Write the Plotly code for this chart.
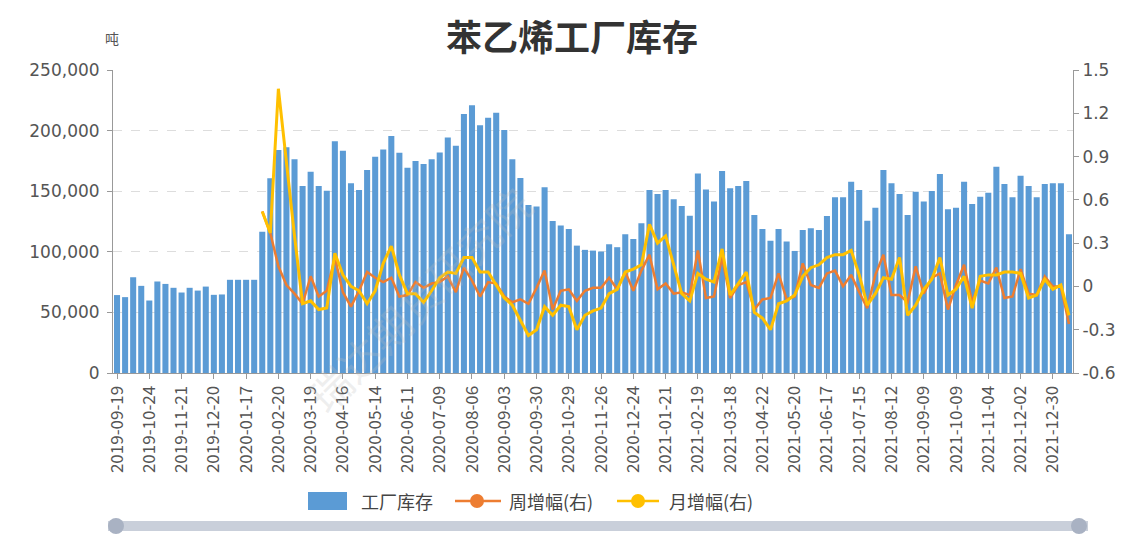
import plotly.graph_objects as go

dates = [
    "2019-09-19", "2019-09-26", "2019-10-11", "2019-10-17",
    "2019-10-24", "2019-10-31", "2019-11-07", "2019-11-14",
    "2019-11-21", "2019-11-28", "2019-12-05", "2019-12-12",
    "2019-12-20", "2019-12-26", "2020-01-02", "2020-01-09",
    "2020-01-17", "2020-01-23", "2020-02-06", "2020-02-13",
    "2020-02-20", "2020-02-27", "2020-03-05", "2020-03-12",
    "2020-03-19", "2020-03-26", "2020-04-02", "2020-04-09",
    "2020-04-16", "2020-04-23", "2020-04-30", "2020-05-07",
    "2020-05-14", "2020-05-21", "2020-05-28", "2020-06-04",
    "2020-06-11", "2020-06-18", "2020-06-24", "2020-07-02",
    "2020-07-09", "2020-07-16", "2020-07-23", "2020-07-30",
    "2020-08-06", "2020-08-13", "2020-08-20", "2020-08-27",
    "2020-09-03", "2020-09-10", "2020-09-17", "2020-09-24",
    "2020-09-30", "2020-10-09", "2020-10-15", "2020-10-22",
    "2020-10-29", "2020-11-05", "2020-11-12", "2020-11-19",
    "2020-11-26", "2020-12-03", "2020-12-10", "2020-12-17",
    "2020-12-24", "2020-12-31", "2021-01-07", "2021-01-14",
    "2021-01-21", "2021-01-28", "2021-02-04", "2021-02-10",
    "2021-02-19", "2021-02-25", "2021-03-04", "2021-03-11",
    "2021-03-18", "2021-03-25", "2021-04-01", "2021-04-08",
    "2021-04-22", "2021-04-29", "2021-05-07", "2021-05-13",
    "2021-05-20", "2021-05-27", "2021-06-03", "2021-06-10",
    "2021-06-17", "2021-06-24", "2021-07-01", "2021-07-08",
    "2021-07-15", "2021-07-22", "2021-07-29", "2021-08-05",
    "2021-08-12", "2021-08-19", "2021-08-26", "2021-09-02",
    "2021-09-09", "2021-09-16", "2021-09-23", "2021-09-30",
    "2021-10-09", "2021-10-14", "2021-10-21", "2021-10-28",
    "2021-11-04", "2021-11-11", "2021-11-18", "2021-11-25",
    "2021-12-02", "2021-12-09", "2021-12-16", "2021-12-23",
    "2021-12-30", "2022-01-06", "2022-01-13",
]

inventory = [
    64300, 62600, 79000, 71900, 59800, 75500, 73500, 70300, 66400, 70300,
    68000, 71300, 64500, 64800, 76900, 76900, 76900, 76900, 116600, 160600,
    184000, 186200, 176300, 154300, 166100, 154300, 150400, 191300, 183400, 156500,
    151000, 167500, 178400, 184500, 195500, 181700, 169400, 174900, 172400, 176300,
    182000, 194400, 187500, 213600, 221000, 204500, 210600, 214700, 200400, 176300,
    160900, 138600, 137300, 153200, 125400, 121600, 118900, 105100, 101600, 101000,
    100200, 106200, 103800, 114500, 110600, 123500, 151000, 147700, 151000, 143300,
    137800, 129800, 164700, 151500, 141400, 166600, 152400, 154300, 158400, 130400,
    118900, 109200, 118900, 108400, 100700, 118000, 119400, 118000, 129600, 145000,
    145000, 157800, 151000, 125700, 136400, 167500, 156500, 147700, 130400, 149600,
    141400, 150200, 164200, 135100, 136400, 157800, 139500, 145500, 148800, 170200,
    155900, 145000, 162800, 154300, 145000, 155900, 156500, 156500, 114500,
]

weekly = [None] * 18 + [
    0.52, 0.37, 0.14, 0.01, -0.05, -0.12, 0.07, -0.07, -0.03, 0.20,
    -0.04, -0.14, -0.03, 0.10, 0.06, 0.03, 0.06, -0.07, -0.06, 0.03,
    -0.01, 0.02, 0.03, 0.07, -0.04, 0.13, 0.04, -0.07, 0.03, 0.02,
    -0.07, -0.11, -0.09, -0.12, -0.01, 0.11, -0.16, -0.03, -0.02, -0.10,
    -0.03, -0.01, -0.01, 0.06, -0.02, 0.10, -0.03, 0.11, 0.22, -0.02,
    0.02, -0.05, -0.04, -0.06, 0.25, -0.08, -0.07, 0.20, -0.08, 0.01,
    0.03, -0.16, -0.09, -0.08, 0.09, -0.09, -0.07, 0.16, 0.01, -0.01,
    0.09, 0.11, 0.00, 0.08, -0.04, -0.15, 0.08, 0.22, -0.06, -0.06,
    -0.11, 0.14, -0.05, 0.06, 0.09, -0.16, 0.01, 0.15, -0.11, 0.04,
    0.02, 0.13, -0.08, -0.07, 0.12, -0.05, -0.06, 0.07, 0.00, 0.00,
    -0.26,
]

monthly = [None] * 18 + [
    0.52, 0.37, 1.37, 0.85, 0.35, -0.12, -0.10, -0.16, -0.15, 0.23,
    0.08, 0.00, -0.03, -0.12, -0.03, 0.16, 0.28, 0.08, -0.05, -0.05,
    -0.11, -0.03, 0.06, 0.10, 0.09, 0.20, 0.20, 0.10, 0.10, 0.01,
    -0.08, -0.13, -0.23, -0.34, -0.30, -0.14, -0.20, -0.13, -0.14, -0.30,
    -0.20, -0.17, -0.15, -0.05, -0.02, 0.10, 0.12, 0.15, 0.43, 0.30,
    0.35, 0.15, -0.05, -0.10, 0.09, 0.05, 0.03, 0.26, -0.06, 0.02,
    0.10, -0.18, -0.22, -0.30, -0.12, -0.10, -0.06, 0.07, 0.13, 0.15,
    0.20, 0.22, 0.22, 0.25, 0.08, -0.13, -0.05, 0.06, 0.05, 0.20,
    -0.20, -0.13, -0.02, 0.05, 0.20, -0.06, -0.02, 0.07, -0.15, 0.07,
    0.08, 0.08, 0.10, 0.10, 0.09, -0.08, -0.06, 0.05, -0.02, 0.01,
    -0.20,
]

left_ticks = [0, 50000, 100000, 150000, 200000, 250000]
right_ticks = [-0.6, -0.3, 0, 0.3, 0.6, 0.9, 1.2, 1.5]
right_labels = ["-0.6", "-0.3", "0", "0.3", "0.6", "0.9", "1.2", "1.5"]
label_dates = dates[::4]
series_names = ["工厂库存", "周增幅(右)", "月增幅(右)"]

BLUE = "#5B9BD5"
ORANGE = "#ED7D31"
YELLOW = "#FFC000"
FONT = "Microsoft YaHei, Noto Sans CJK SC, sans-serif"
TICKFONT = "DejaVu Sans, Noto Sans CJK SC, sans-serif"

# plot area in screen pixels (figure is offset 8px by the page margin)
PX_L, PX_R, PX_T, PX_B = 113, 1073, 70, 373


def px(x):
    return (x - PX_L) / (PX_R - PX_L)


def py(y):
    return (PX_B - y) / (PX_B - PX_T)


fig = go.Figure()
fig.add_trace(go.Bar(x=dates, y=inventory, name=series_names[0],
                     marker=dict(color=BLUE, line=dict(width=0)), yaxis="y"))
fig.add_trace(go.Scatter(x=dates, y=weekly, name=series_names[1], mode="lines",
                         line=dict(color=ORANGE, width=2.5), yaxis="y2"))
fig.add_trace(go.Scatter(x=dates, y=monthly, name=series_names[2], mode="lines",
                         line=dict(color=YELLOW, width=3), yaxis="y2"))

LEG_Y = 501
shapes = [
    # data zoom slider
    dict(type="rect", xref="paper", yref="paper", x0=px(108), x1=px(1088),
         y0=py(521), y1=py(531), fillcolor="#C9CFDA", line=dict(width=0)),
    dict(type="circle", xref="paper", yref="paper", x0=px(108), x1=px(124),
         y0=py(534), y1=py(518), fillcolor="#A9B2C3", line=dict(width=0)),
    dict(type="circle", xref="paper", yref="paper", x0=px(1071), x1=px(1087),
         y0=py(534), y1=py(518), fillcolor="#A9B2C3", line=dict(width=0)),
    # legend: bar icon
    dict(type="rect", xref="paper", yref="paper", x0=px(308), x1=px(347),
         y0=py(510), y1=py(492), fillcolor=BLUE, line=dict(width=0)),
    # legend: weekly icon
    dict(type="line", xref="paper", yref="paper", x0=px(455), x1=px(501),
         y0=py(LEG_Y), y1=py(LEG_Y), line=dict(color=ORANGE, width=2.5)),
    dict(type="circle", xref="paper", yref="paper", x0=px(470), x1=px(484),
         y0=py(LEG_Y + 7), y1=py(LEG_Y - 7), fillcolor=ORANGE,
         line=dict(width=0)),
    # legend: monthly icon
    dict(type="line", xref="paper", yref="paper", x0=px(617), x1=px(659),
         y0=py(LEG_Y), y1=py(LEG_Y), line=dict(color=YELLOW, width=2.5)),
    dict(type="circle", xref="paper", yref="paper", x0=px(631), x1=px(645),
         y0=py(LEG_Y + 7), y1=py(LEG_Y - 7), fillcolor=YELLOW,
         line=dict(width=0)),
]

annotations = [
    dict(text="吨", xref="paper", yref="paper", x=px(112), y=py(38),
         xanchor="center", yanchor="middle", showarrow=False,
         font=dict(size=14, color="#555555")),
    dict(text="瑞达期货研究院", xref="paper", yref="paper", x=px(290), y=py(170),
         showarrow=False, textangle=-45,
         font=dict(size=42, color="rgba(190,190,190,0.25)")),
    dict(text=series_names[0], xref="paper", yref="paper", x=px(359), y=py(LEG_Y),
         xanchor="left", yanchor="middle", showarrow=False,
         font=dict(size=18, color="#444444")),
    dict(text=series_names[1], xref="paper", yref="paper", x=px(507), y=py(LEG_Y),
         xanchor="left", yanchor="middle", showarrow=False,
         font=dict(size=18, color="#444444")),
    dict(text=series_names[2], xref="paper", yref="paper", x=px(667), y=py(LEG_Y),
         xanchor="left", yanchor="middle", showarrow=False,
         font=dict(size=18, color="#444444")),
]

fig.update_layout(
    width=1124, height=526,
    margin=dict(l=PX_L - 8, r=1132 - PX_R, t=PX_T - 8, b=534 - PX_B,
                autoexpand=False),
    paper_bgcolor="white", plot_bgcolor="white",
    font=dict(family=FONT, color="#555555", size=13),
    bargap=0.25,
    showlegend=False,
    title=dict(text="<b>苯乙烯工厂库存</b>", x=(572 - 8) / 1124, xanchor="center",
               y=1 - (38 - 8) / 526, yanchor="middle",
               font=dict(size=36, color="#333333", family=FONT)),
    xaxis=dict(type="category", range=[-0.5, len(dates) - 0.5],
               tickmode="array", tickvals=label_dates,
               ticktext=label_dates, tickangle=-90, ticks="outside",
               ticklen=5, tickcolor="#999999", showline=True,
               linecolor="#999999", linewidth=1, showgrid=False,
               automargin=False,
               tickfont=dict(size=17, color="#555555")),
    yaxis=dict(range=[0, 250000], tickvals=left_ticks, tickformat=",",
               showgrid=True, gridcolor="#DDDDDD", griddash="dash",
               showline=True, linecolor="#999999", ticks="outside",
               ticklen=5, tickcolor="#999999", zeroline=False,
               automargin=False, ticklabelstandoff=4,
               tickfont=dict(size=17, color="#555555", family=TICKFONT)),
    yaxis2=dict(range=[-0.6, 1.5], tickvals=right_ticks,
                ticktext=right_labels,
                overlaying="y", side="right", showgrid=False,
                showline=True, linecolor="#999999", ticks="outside",
                ticklen=5, tickcolor="#999999", zeroline=False,
                automargin=False,
                tickfont=dict(size=17, color="#555555", family=TICKFONT)),
    shapes=shapes,
    annotations=annotations,
)

fig.write_html("out.html")
